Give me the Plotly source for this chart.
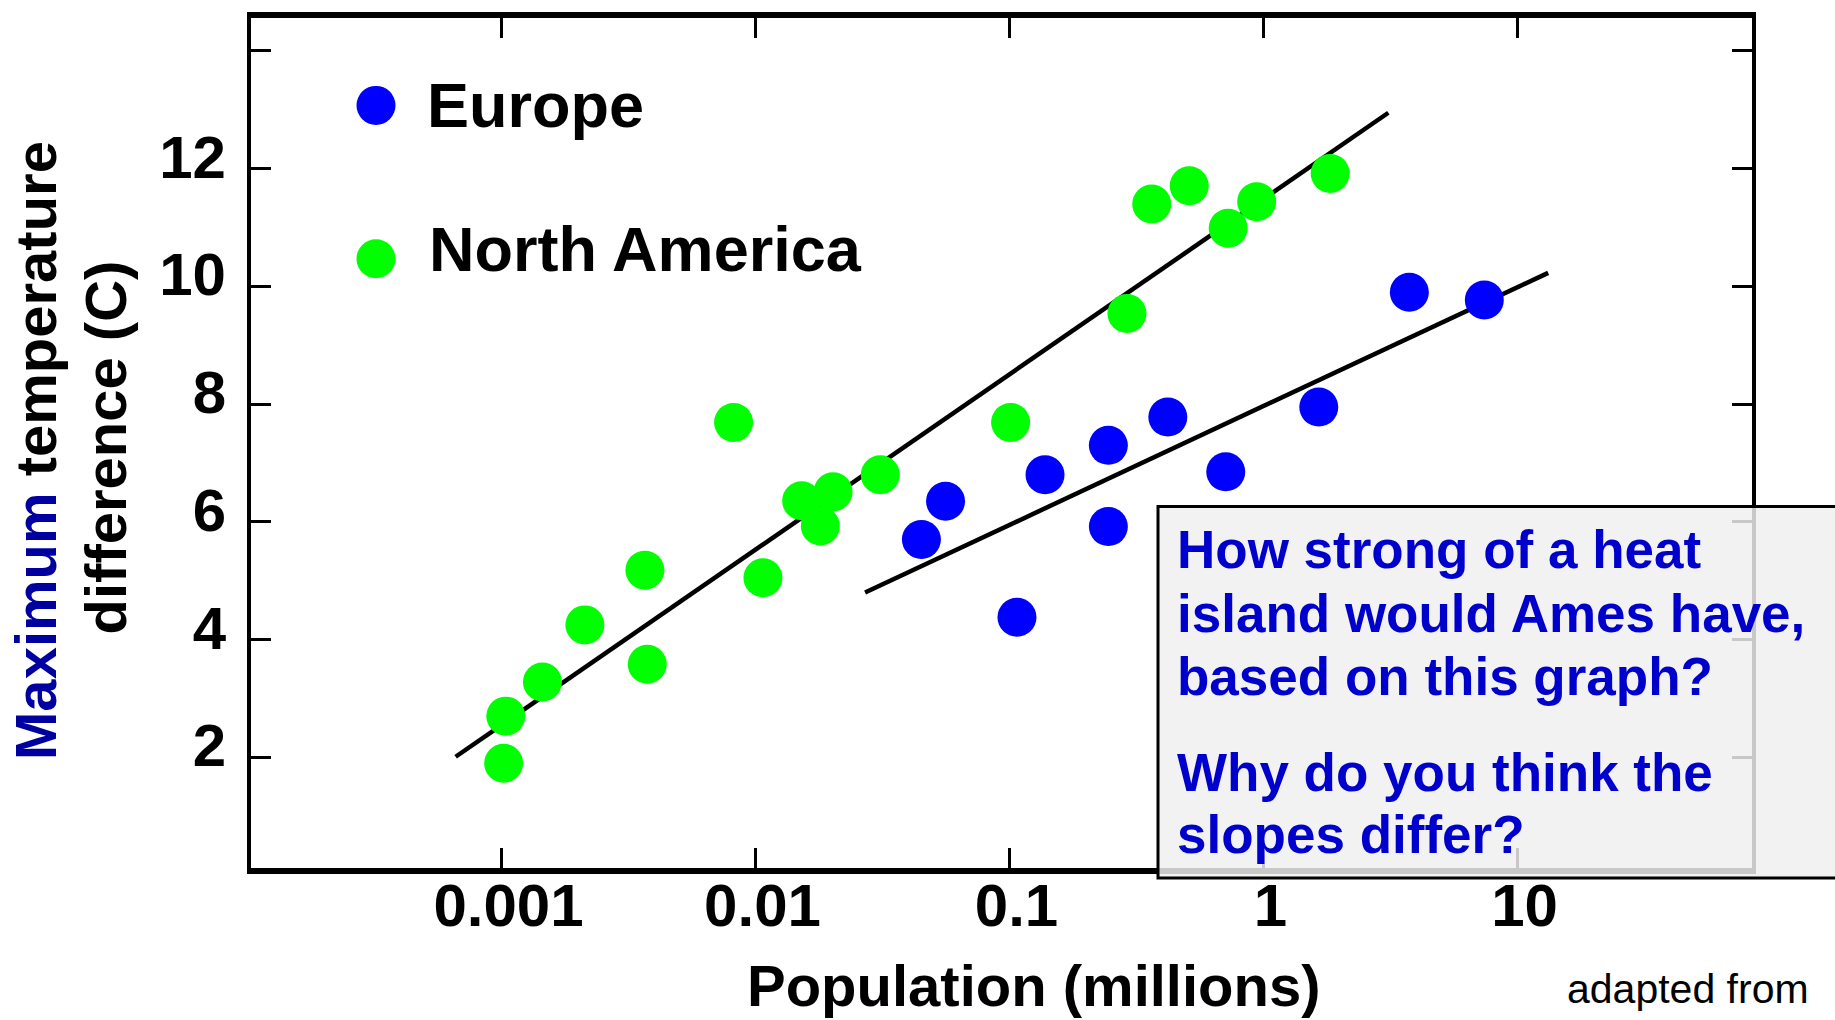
import plotly.graph_objects as go

# ---------------- data ----------------
europe_pop = [0.045, 0.056, 0.107, 0.138, 0.245, 0.245, 0.42, 0.71, 1.65, 3.75, 7.4]
europe_dt = [5.70, 6.35, 4.38, 6.80, 7.30, 5.92, 7.78, 6.85, 7.95, 9.90, 9.77]

na_pop = [0.00102, 0.00104, 0.00145, 0.00213, 0.00367, 0.00375, 0.0082, 0.0107,
          0.0152, 0.0180, 0.0202, 0.031, 0.101, 0.29, 0.363, 0.51, 0.726, 0.94, 1.83]
na_dt = [1.90, 2.70, 3.28, 4.25, 5.18, 3.58, 7.69, 5.05,
         6.36, 5.93, 6.51, 6.80, 7.69, 9.54, 11.40, 11.71, 10.99, 11.44, 11.92]

na_fit_pop = [0.00066, 3.1]
na_fit_dt = [2.01, 12.95]
eu_fit_pop = [0.027, 13.2]
eu_fit_dt = [4.80, 10.23]

x_tickvals = [0.001, 0.01, 0.1, 1, 10]
x_ticktext = ["0.001", "0.01", "0.1", "1", "10"]
y_tickvals = [2, 4, 6, 8, 10, 12, 14]
y_ticktext = ["2", "4", "6", "8", "10", "12", ""]

series_names = ["Europe", "North America"]
question_lines = ["How strong of a heat", "island would Ames have,", "based on this graph?",
                  "Why do you think the", "slopes differ?"]

# ---------------- layout helpers ----------------
W, H = 1835, 1020
L, R, T, B = 251, 1752, 12, 868
FONT = "Liberation Sans, Arial, Helvetica, sans-serif"
BLUE = "#0000FF"
GREEN = "#00FF00"
QBLUE = "#0000CC"


def px_x(p):
    return (p - L) / (R - L)


def px_y(p):
    return (B - p) / (B - T)


fig = go.Figure()

# fitted lines (under the markers)
for fx, fy in [(na_fit_pop, na_fit_dt), (eu_fit_pop, eu_fit_dt)]:
    fig.add_trace(go.Scatter(x=fx, y=fy, mode="lines",
                             line=dict(color="black", width=4.5),
                             showlegend=False, hoverinfo="skip"))

fig.add_trace(go.Scatter(x=europe_pop, y=europe_dt, mode="markers", name=series_names[0],
                         marker=dict(color=BLUE, size=39, line=dict(width=0)),
                         showlegend=False))
fig.add_trace(go.Scatter(x=na_pop, y=na_dt, mode="markers", name=series_names[1],
                         marker=dict(color=GREEN, size=39, line=dict(width=0)),
                         showlegend=False))

fig.update_xaxes(type="log", range=[-3.986, 1.923], tickvals=x_tickvals, ticktext=x_ticktext,
                 ticks="inside", ticklen=20, tickwidth=3, tickcolor="black",
                 showline=True, linewidth=6, linecolor="black", mirror="ticks",
                 showgrid=False, zeroline=False,
                 ticklabelstandoff=-20, ticklabelshift=7,
                 tickfont=dict(family=FONT, size=60, color="black", weight="bold"))
fig.update_yaxes(range=[0.12, 14.56], tickvals=y_tickvals, ticktext=y_ticktext,
                 ticks="inside", ticklen=20, tickwidth=3, tickcolor="black",
                 showline=True, linewidth=4, linecolor="black", mirror="ticks",
                 showgrid=False, zeroline=False,
                 ticklabelstandoff=9, ticklabelshift=-12,
                 tickfont=dict(family=FONT, size=60, color="black", weight="bold"))

shapes = []
# custom legend markers
for cy, col in [(100, BLUE), (254.5, GREEN)]:
    shapes.append(dict(type="circle", xref="paper", yref="paper",
                       xsizemode="pixel", ysizemode="pixel",
                       xanchor=px_x(376), yanchor=px_y(cy),
                       x0=-19.5, x1=19.5, y0=-19.5, y1=19.5,
                       fillcolor=col, line=dict(width=0), layer="above"))
# question box
shapes.append(dict(type="rect", xref="paper", yref="paper",
                   x0=px_x(1158), x1=px_x(1860), y0=px_y(878), y1=px_y(504),
                   fillcolor="rgba(240,240,240,0.835)",
                   line=dict(color="black", width=3), layer="above"))

annotations = []


def add_text(text, xp, yp, size, color="black", bold=True, xanchor="center", angle=0):
    annotations.append(dict(text=text, xref="paper", yref="paper",
                            x=px_x(xp), y=px_y(yp), xanchor=xanchor, yanchor="middle",
                            textangle=angle, showarrow=False,
                            font=dict(family=FONT, size=size, color=color,
                                      weight="bold" if bold else "normal")))


# legend texts
add_text(series_names[0], 425, 100, 63, xanchor="left")
add_text(series_names[1], 427, 245, 63, xanchor="left")

# axis titles
add_text("<span style='color:#0000A0'>Maximum</span> temperature", 36, 448, 58, angle=-90)
add_text("difference (C)", 105.5, 445, 58, angle=-90)
add_text("Population (millions)", 1034, 986, 58)

# question text
q_y = [547.4, 611.4, 675.4, 771.4, 834.1]
for line, yy in zip(question_lines, q_y):
    add_text(line, 1175, yy, 53, color=QBLUE, xanchor="left")

add_text("adapted from", 1688, 990, 41, bold=False)

fig.update_layout(width=W, height=H, autosize=False,
                  margin=dict(l=L, r=W - R, t=T, b=H - B, pad=0),
                  paper_bgcolor="white", plot_bgcolor="white",
                  showlegend=False, shapes=shapes, annotations=annotations,
                  font=dict(family=FONT))

fig.write_html("out.html", config={"displayModeBar": False},
               post_script="document.body.style.margin='0';document.body.style.overflow='hidden';")
